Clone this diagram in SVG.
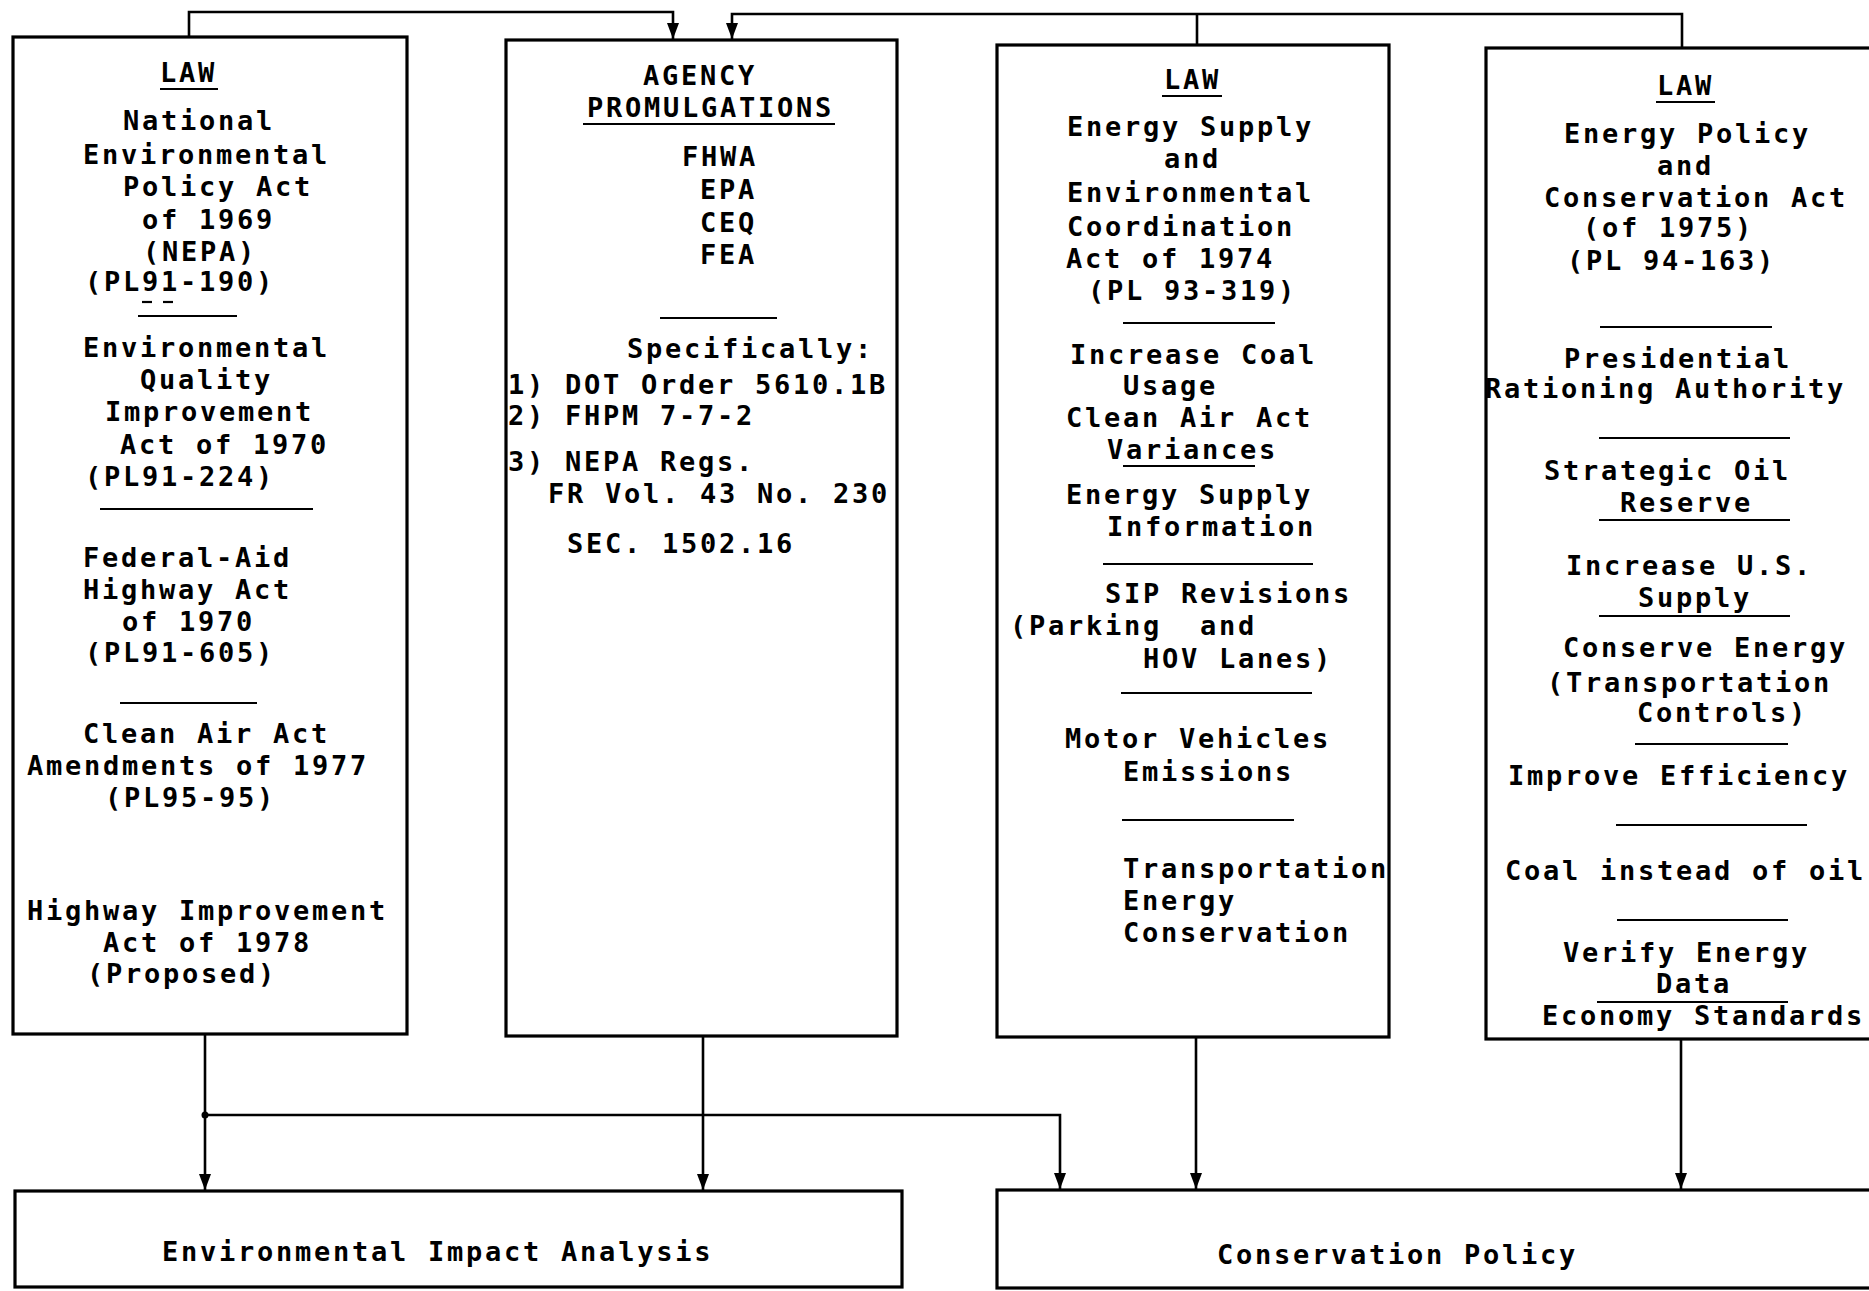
<svg xmlns="http://www.w3.org/2000/svg" width="1869" height="1291" viewBox="0 0 1869 1291">
<style>
.box{fill:none;stroke:#000;stroke-width:3.2}
.con{fill:none;stroke:#000;stroke-width:2.6}
.sep{stroke:#000;stroke-width:2.2}
text{font-family:"DejaVu Sans Mono","Liberation Mono",monospace;font-weight:bold;font-size:27px;letter-spacing:2.75px;fill:#000;white-space:pre}
</style>
<defs>
<marker id="arr" viewBox="0 0 16 12" refX="16" refY="6" markerWidth="16" markerHeight="12" markerUnits="userSpaceOnUse" orient="auto">
<path d="M0,0 L16,6 L0,12 Z" fill="#000"/>
</marker>
</defs>
<rect width="1869" height="1291" fill="#fff"/>

<g id="connectors">
<path class="con" d="M189,37 V12 H673 V39" marker-end="url(#arr)"/>
<path class="con" d="M1682,48 V14 H732 V39" marker-end="url(#arr)"/>
<path class="con" d="M1197,45 V14"/>
<path class="con" d="M205,1034 V1190" marker-end="url(#arr)"/>
<path class="con" d="M205,1115 H1060 V1189" marker-end="url(#arr)"/>
<path class="con" d="M703,1036 V1190" marker-end="url(#arr)"/>
<path class="con" d="M1196,1037 V1189" marker-end="url(#arr)"/>
<path class="con" d="M1681,1039 V1189" marker-end="url(#arr)"/>
<circle cx="205" cy="1115" r="3.5" fill="#000"/>
</g>

<g id="law-nepa">
<rect class="box" x="13" y="37" width="394" height="997"/>
<text x="160" y="82">LAW</text>
<line class="sep" x1="160" y1="89" x2="218" y2="89"/>
<text x="123" y="130">National</text>
<text x="83" y="164">Environmental</text>
<text x="123" y="196">Policy Act</text>
<text x="142" y="229">of 1969</text>
<text x="143" y="261">(NEPA)</text>
<text x="85" y="291">(PL91-190)</text>
<line class="sep" x1="142" y1="302" x2="152" y2="302"/>
<line class="sep" x1="163" y1="302" x2="173" y2="302"/>
<line class="sep" x1="138" y1="316" x2="237" y2="316"/>
<text x="83" y="357">Environmental</text>
<text x="140" y="389">Quality</text>
<text x="105" y="421">Improvement</text>
<text x="120" y="454">Act of 1970</text>
<text x="85" y="486">(PL91-224)</text>
<line class="sep" x1="100" y1="509" x2="313" y2="509"/>
<text x="83" y="567">Federal-Aid</text>
<text x="83" y="599">Highway Act</text>
<text x="122" y="631">of 1970</text>
<text x="85" y="662">(PL91-605)</text>
<line class="sep" x1="120" y1="703" x2="257" y2="703"/>
<text x="83" y="743">Clean Air Act</text>
<text x="27" y="775">Amendments of 1977</text>
<text x="105" y="807">(PL95-95)</text>
<text x="27" y="920">Highway Improvement</text>
<text x="103" y="952">Act of 1978</text>
<text x="87" y="983">(Proposed)</text>
</g>

<g id="agency">
<rect class="box" x="506" y="40" width="391" height="996"/>
<text x="643" y="85">AGENCY</text>
<text x="587" y="117">PROMULGATIONS</text>
<line class="sep" x1="583" y1="124" x2="835" y2="124"/>
<text x="682" y="166">FHWA</text>
<text x="700" y="199">EPA</text>
<text x="700" y="232">CEQ</text>
<text x="700" y="264">FEA</text>
<line class="sep" x1="660" y1="318" x2="777" y2="318"/>
<text x="627" y="358">Specifically:</text>
<text x="508" y="394">1) DOT Order 5610.1B</text>
<text x="508" y="425">2) FHPM 7-7-2</text>
<text x="508" y="471">3) NEPA Regs.</text>
<text x="548" y="503">FR Vol. 43 No. 230</text>
<text x="567" y="553">SEC. 1502.16</text>
</g>

<g id="law-eseca">
<rect class="box" x="997" y="45" width="392" height="992"/>
<text x="1164" y="89">LAW</text>
<line class="sep" x1="1162" y1="96" x2="1222" y2="96"/>
<text x="1067" y="136">Energy Supply</text>
<text x="1164" y="168">and</text>
<text x="1067" y="202">Environmental</text>
<text x="1067" y="236">Coordination</text>
<text x="1066" y="268">Act of 1974</text>
<text x="1088" y="300">(PL 93-319)</text>
<line class="sep" x1="1123" y1="323" x2="1275" y2="323"/>
<text x="1070" y="364">Increase Coal</text>
<text x="1123" y="395">Usage</text>
<text x="1066" y="427">Clean Air Act</text>
<text x="1107" y="459">Variances</text>
<line class="sep" x1="1123" y1="466" x2="1255" y2="466"/>
<text x="1066" y="504">Energy Supply</text>
<text x="1107" y="536">Information</text>
<line class="sep" x1="1103" y1="564" x2="1313" y2="564"/>
<text x="1105" y="603">SIP Revisions</text>
<text x="1010" y="635">(Parking  and</text>
<text x="1143" y="668">HOV Lanes)</text>
<line class="sep" x1="1121" y1="693" x2="1312" y2="693"/>
<text x="1065" y="748">Motor Vehicles</text>
<text x="1123" y="781">Emissions</text>
<line class="sep" x1="1122" y1="820" x2="1294" y2="820"/>
<text x="1123" y="878">Transportation</text>
<text x="1123" y="910">Energy</text>
<text x="1123" y="942">Conservation</text>
</g>

<g id="law-epca">
<rect class="box" x="1486" y="48" width="420" height="991"/>
<text x="1657" y="95">LAW</text>
<line class="sep" x1="1656" y1="102" x2="1715" y2="102"/>
<text x="1564" y="143">Energy Policy</text>
<text x="1657" y="175">and</text>
<text x="1544" y="207">Conservation Act</text>
<text x="1583" y="237">(of 1975)</text>
<text x="1567" y="270">(PL 94-163)</text>
<line class="sep" x1="1600" y1="327" x2="1772" y2="327"/>
<text x="1564" y="368">Presidential</text>
<text x="1485" y="398">Rationing Authority</text>
<line class="sep" x1="1599" y1="438" x2="1790" y2="438"/>
<text x="1544" y="480">Strategic Oil</text>
<text x="1620" y="512">Reserve</text>
<line class="sep" x1="1599" y1="520" x2="1790" y2="520"/>
<text x="1566" y="575">Increase U.S.</text>
<text x="1638" y="607">Supply</text>
<line class="sep" x1="1599" y1="616" x2="1790" y2="616"/>
<text x="1563" y="657">Conserve Energy</text>
<text x="1547" y="692">(Transportation</text>
<text x="1637" y="722">Controls)</text>
<line class="sep" x1="1635" y1="744" x2="1788" y2="744"/>
<text x="1508" y="785">Improve Efficiency</text>
<line class="sep" x1="1616" y1="825" x2="1807" y2="825"/>
<text x="1505" y="880">Coal instead of oil</text>
<line class="sep" x1="1617" y1="920" x2="1788" y2="920"/>
<text x="1563" y="962">Verify Energy</text>
<text x="1656" y="993">Data</text>
<line class="sep" x1="1597" y1="1002" x2="1788" y2="1002"/>
<text x="1542" y="1025">Economy Standards</text>
</g>

<g id="env-impact">
<rect class="box" x="15" y="1191" width="887" height="96"/>
<text x="162" y="1261">Environmental Impact Analysis</text>
</g>

<g id="conservation-policy">
<rect class="box" x="997" y="1190" width="920" height="98"/>
<text x="1217" y="1264">Conservation Policy</text>
</g>
</svg>
